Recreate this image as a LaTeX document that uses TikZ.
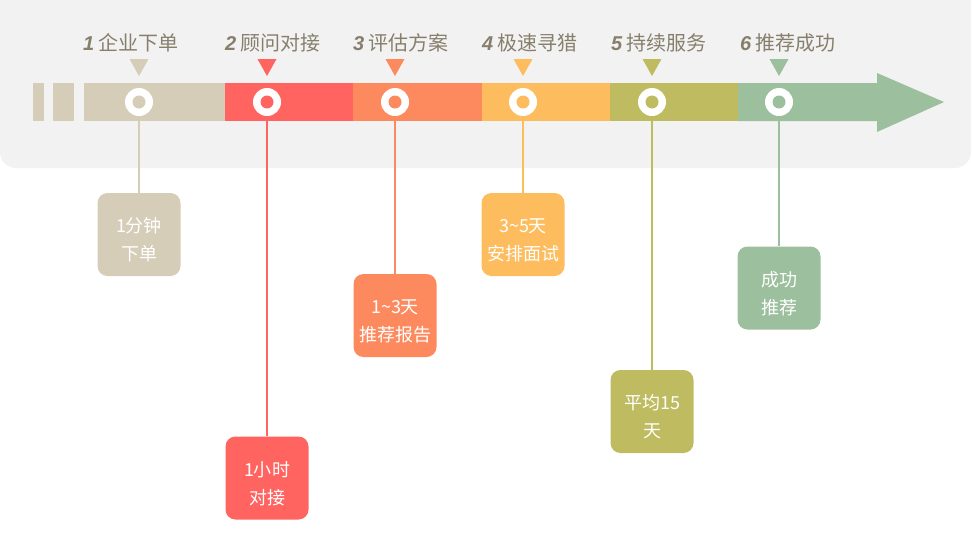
\documentclass[tikz,border=0pt]{standalone}
\usepackage{fontspec}
\setmainfont{Noto Sans CJK SC}
\newfontfamily\numfont{Liberation Sans}
\usetikzlibrary{positioning}

\definecolor{bggray}{RGB}{242,242,242}
\definecolor{titlec}{RGB}{135,127,108}
\definecolor{beige}{RGB}{214,205,185}
\definecolor{red}{RGB}{255,100,97}
\definecolor{orange}{RGB}{253,138,94}
\definecolor{yellow}{RGB}{253,189,94}
\definecolor{olive}{RGB}{191,187,96}
\definecolor{green}{RGB}{156,191,157}

\newcommand{\stepno}[1]{{\numfont\bfseries\itshape #1} }
\newcommand{\cardtext}[2]{\rule{0pt}{26pt}#1\\#2}

\begin{document}
\begin{tikzpicture}[x=1pt, y=-1pt]
    \tikzstyle{ring}=[circle, fill=white, minimum size=28pt, inner sep=0pt]
    \tikzstyle{hole}=[circle, minimum size=13pt, inner sep=0pt]
    \tikzstyle{card}=[rounded corners=10pt, minimum size=83pt, inner sep=0pt,
                      text=white, align=center, font=\fontsize{18}{28}\selectfont]
    \tikzstyle{title}=[anchor=west, text=titlec, inner sep=0pt,
                       font=\fontsize{20}{24}\selectfont]
    \tikzstyle{stem}=[line width=2pt]

    \useasboundingbox (0,0) rectangle (973,536);
    \fill[bggray, rounded corners=16pt] (0,-20) rectangle (971,168);

    % the bar
    \fill[beige]  (33,83) rectangle (44,121);
    \fill[beige]  (53,83) rectangle (74,121);
    \fill[beige]  (84,83) rectangle (225,121);
    \fill[red]    (225,83) rectangle (353,121);
    \fill[orange] (353,83) rectangle (482,121);
    \fill[yellow] (482,83) rectangle (610,121);
    \fill[olive]  (610,83) rectangle (738,121);
    \fill[green]  (738,83) -- (877,83) -- (877,73) -- (944,102) -- (877,132)
                  -- (877,121) -- (738,121) -- cycle;

    % titles
    \node[title] (t1) at (83,43)  {\stepno{1}企业下单};
    \node[title] (t2) at (225,43) {\stepno{2}顾问对接};
    \node[title] (t3) at (353,43) {\stepno{3}评估方案};
    \node[title] (t4) at (482,43) {\stepno{4}极速寻猎};
    \node[title] (t5) at (611,43) {\stepno{5}持续服务};
    \node[title] (t6) at (740,43) {\stepno{6}推荐成功};

    % markers
    \fill[beige]  (129.5,59) -- (148.5,59) -- (139,76) -- cycle;
    \fill[red]    (257.5,59) -- (276.5,59) -- (267,76) -- cycle;
    \fill[orange] (385.5,59) -- (404.5,59) -- (395,76) -- cycle;
    \fill[yellow] (513.5,59) -- (532.5,59) -- (523,76) -- cycle;
    \fill[olive]  (642.5,59) -- (661.5,59) -- (652,76) -- cycle;
    \fill[green]  (769.5,59) -- (788.5,59) -- (779,76) -- cycle;

    % rings
    \node[ring] (r1) at (139,102) {};
    \node[ring] (r2) at (267,102) {};
    \node[ring] (r3) at (395,102) {};
    \node[ring] (r4) at (523,102) {};
    \node[ring] (r5) at (652,102) {};
    \node[ring] (r6) at (779,102) {};
    \node[hole, fill=beige]  (h1) at (r1) {};
    \node[hole, fill=red]    (h2) at (r2) {};
    \node[hole, fill=orange] (h3) at (r3) {};
    \node[hole, fill=yellow] (h4) at (r4) {};
    \node[hole, fill=olive]  (h5) at (r5) {};
    \node[hole, fill=green]  (h6) at (r6) {};

    % cards
    \node[card, fill=beige]  (c1) at (139,234.5) {\cardtext{1分钟}{下单}};
    \node[card, fill=red]    (c2) at (267,478)   {\cardtext{1小时}{对接}};
    \node[card, fill=orange] (c3) at (395,315.5) {\cardtext{1\textasciitilde3天}{推荐报告}};
    \node[card, fill=yellow] (c4) at (523,234.5) {\cardtext{3\textasciitilde5天}{安排面试}};
    \node[card, fill=olive]  (c5) at (652,411.5) {\cardtext{平均15}{天}};
    \node[card, fill=green]  (c6) at (779,288)   {\cardtext{成功}{推荐}};

    % stems
    \coordinate (s1) at (139,121);
    \coordinate (s2) at (267,121);
    \coordinate (s3) at (395,121);
    \coordinate (s4) at (523,121);
    \coordinate (s5) at (652,121);
    \coordinate (s6) at (779,121);
    \draw[stem, beige]  (s1) -- (c1.north);
    \draw[stem, red]    (s2) -- (c2.north);
    \draw[stem, orange] (s3) -- (c3.north);
    \draw[stem, yellow] (s4) -- (c4.north);
    \draw[stem, olive]  (s5) -- (c5.north);
    \draw[stem, green]  (s6) -- (c6.north);
\end{tikzpicture}
\end{document}
